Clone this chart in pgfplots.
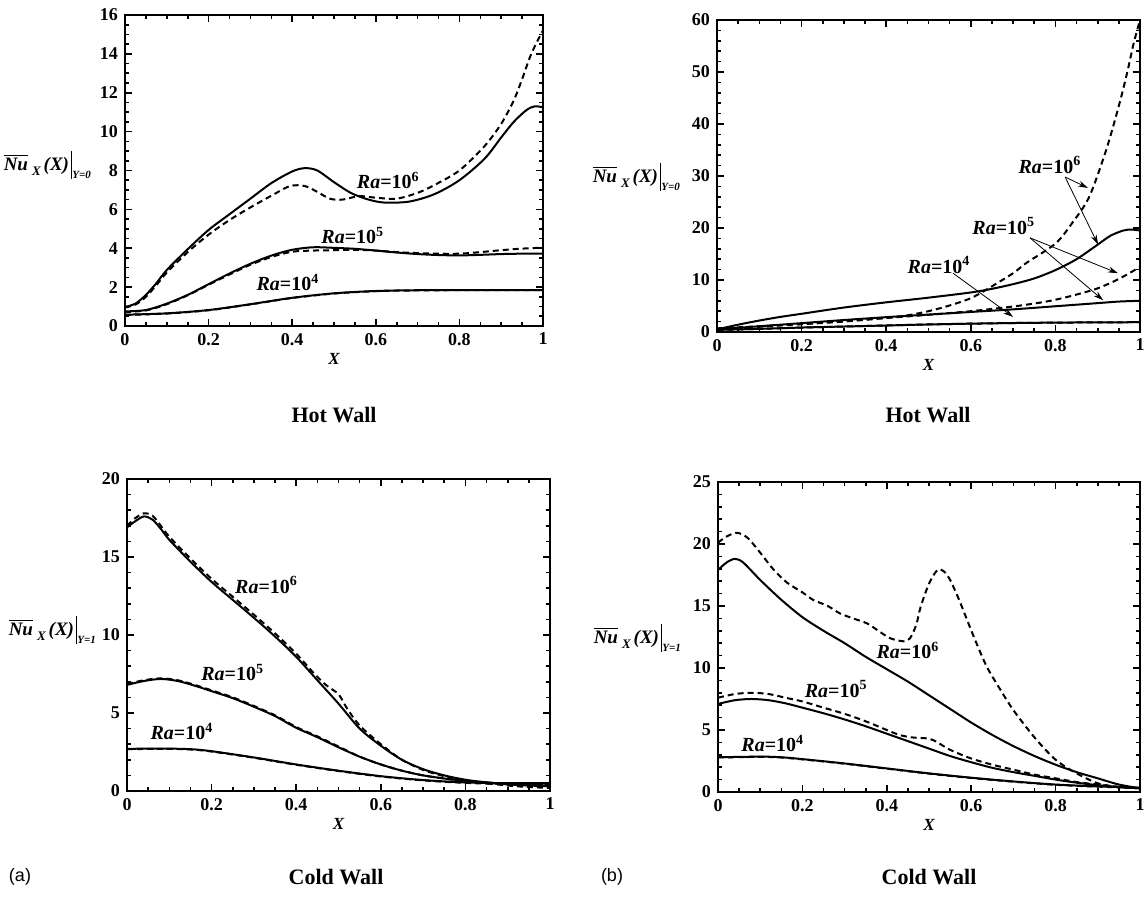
\documentclass[border=0pt]{standalone}
\usepackage{fontspec}
\setmainfont{Liberation Serif}
\newfontfamily\sansf{Liberation Sans}
\usepackage{pgfplots}
\pgfplotsset{compat=1.18}
\usetikzlibrary{arrows.meta}

\newcommand{\ra}[1]{{\fontsize{10}{11}\selectfont\bfseries\itshape Ra\upshape =10\textsuperscript{#1}}}
\newcommand{\nulab}[1]{{\fontsize{9.5}{10}\selectfont\bfseries\itshape
  $\overline{\mbox{\bfseries\itshape Nu}}$\kern2pt\raisebox{-0.6ex}{\fontsize{6.5}{7}\selectfont X}\kern1.5pt(X)\kern1pt\rule[-1ex]{0.7pt}{3.2ex}\raisebox{-1ex}{\fontsize{5.5}{6}\selectfont Y=#1}}}

\pgfplotsset{
  panel/.style={
    scale only axis,
    xmin=0, xmax=1,
    xtick={0,0.2,0.4,0.6,0.8,1},
    minor x tick num=3,
    axis line style={line width=1.1pt},
    every tick/.style={black, line width=0.8pt},
    major tick length=3.5pt,
    minor tick length=1.8pt,
    tick label style={font=\bfseries\fontsize{9}{10}\selectfont},
    /pgf/number format/assume math mode=true,
    xlabel={\bfseries\itshape X},
    xlabel style={font=\fontsize{8.5}{9}\selectfont, yshift=3pt},
  },
  sol/.style={black, line width=1pt, smooth, no markers},
  das/.style={black, line width=1pt, smooth, no markers, dash pattern=on 3pt off 2pt},
}

\begin{document}
\begin{tikzpicture}
\path[use as bounding box] (0,0) rectangle (574pt,448.5pt);

% ---------- top left: hot wall (a)
\begin{axis}[panel, at={(62.5pt,285.5pt)}, anchor=south west,
  width=209pt, height=155.5pt,
  ymin=0, ymax=16, ytick={0,2,...,16}, minor y tick num=3]
\addplot[sol] coordinates {(0,0.98) (0.025,1.15) (0.05,1.6) (0.075,2.2) (0.1,2.88) (0.15,3.95) (0.2,4.94) (0.25,5.75) (0.3,6.55) (0.35,7.35) (0.4,7.95) (0.43,8.12) (0.46,8.0) (0.5,7.4) (0.54,6.85) (0.58,6.52) (0.62,6.35) (0.68,6.4) (0.74,6.78) (0.8,7.5) (0.86,8.6) (0.9,9.7) (0.93,10.5) (0.96,11.1) (0.98,11.3) (1,11.25)};
\addplot[das] coordinates {(0,0.95) (0.025,1.1) (0.05,1.5) (0.075,2.1) (0.1,2.75) (0.15,3.8) (0.2,4.7) (0.25,5.45) (0.3,6.1) (0.35,6.7) (0.395,7.2) (0.43,7.2) (0.46,6.9) (0.49,6.55) (0.52,6.5) (0.56,6.68) (0.6,6.6) (0.65,6.55) (0.7,6.85) (0.74,7.25) (0.8,8.0) (0.86,9.25) (0.9,10.4) (0.93,11.6) (0.95,12.7) (0.97,13.9) (0.99,14.8) (1,15.2)};
\addplot[sol] coordinates {(0,0.75) (0.05,0.82) (0.1,1.15) (0.15,1.6) (0.2,2.15) (0.25,2.7) (0.3,3.2) (0.35,3.62) (0.4,3.92) (0.45,4.05) (0.5,4.02) (0.55,3.97) (0.6,3.88) (0.65,3.78) (0.7,3.7) (0.75,3.65) (0.8,3.63) (0.85,3.66) (0.9,3.7) (0.95,3.72) (1,3.72)};
\addplot[das] coordinates {(0,0.72) (0.05,0.8) (0.1,1.12) (0.15,1.58) (0.2,2.12) (0.25,2.65) (0.3,3.15) (0.35,3.55) (0.4,3.82) (0.45,3.88) (0.5,3.9) (0.55,3.92) (0.6,3.88) (0.65,3.8) (0.7,3.75) (0.75,3.72) (0.8,3.72) (0.85,3.8) (0.9,3.9) (0.95,3.98) (1,4.03)};
\addplot[sol] coordinates {(0,0.58) (0.1,0.65) (0.2,0.82) (0.3,1.12) (0.4,1.45) (0.5,1.68) (0.6,1.8) (0.7,1.84) (0.8,1.85) (0.9,1.85) (1,1.85)};
\addplot[das] coordinates {(0,0.57) (0.1,0.64) (0.2,0.81) (0.3,1.11) (0.4,1.44) (0.5,1.67) (0.6,1.79) (0.7,1.83) (0.8,1.84) (0.9,1.84) (1,1.84)};
\node at (axis cs:0.63,7.5) {\ra{6}};
\node at (axis cs:0.545,4.65) {\ra{5}};
\node at (axis cs:0.39,2.25) {\ra{4}};
\end{axis}

% ---------- top right: hot wall (b)
\begin{axis}[panel, at={(358.5pt,282.5pt)}, anchor=south west,
  width=211.5pt, height=156pt,
  ymin=0, ymax=60, ytick={0,10,...,60}, minor y tick num=4]
\addplot[sol] coordinates {(0,0.5) (0.05,1.4) (0.1,2.2) (0.15,2.9) (0.2,3.5) (0.3,4.7) (0.4,5.7) (0.5,6.6) (0.6,7.6) (0.65,8.3) (0.7,9.2) (0.75,10.3) (0.8,11.9) (0.85,14.0) (0.9,16.8) (0.93,18.5) (0.96,19.5) (0.98,19.7) (1,19.5)};
\addplot[das] coordinates {(0,0.7) (0.1,1.1) (0.2,1.5) (0.3,2.0) (0.4,2.7) (0.45,3.2) (0.5,4.0) (0.55,5.1) (0.6,6.5) (0.64,8.3) (0.7,11.3) (0.73,13.2) (0.8,17.0) (0.84,21.0) (0.88,26.0) (0.92,35.0) (0.95,43.5) (0.97,50.0) (0.985,55.5) (1,60)};
\addplot[sol] coordinates {(0,0.5) (0.1,1.1) (0.2,1.7) (0.3,2.3) (0.4,2.85) (0.5,3.35) (0.6,3.85) (0.7,4.35) (0.8,4.95) (0.9,5.55) (0.95,5.85) (1,6.0)};
\addplot[das] coordinates {(0,0.5) (0.1,1.0) (0.2,1.55) (0.3,2.1) (0.4,2.7) (0.5,3.3) (0.6,4.0) (0.7,4.9) (0.76,5.6) (0.8,6.2) (0.85,7.2) (0.9,8.4) (0.95,10.2) (1,12.5)};
\addplot[sol] coordinates {(0,0.4) (0.1,0.6) (0.2,0.85) (0.3,1.05) (0.4,1.25) (0.5,1.45) (0.6,1.6) (0.7,1.72) (0.8,1.8) (0.9,1.85) (1,1.88)};
\addplot[das] coordinates {(0,0.4) (0.1,0.6) (0.2,0.84) (0.3,1.04) (0.4,1.24) (0.5,1.44) (0.6,1.6) (0.7,1.72) (0.8,1.8) (0.9,1.85) (1,1.88)};
\node at (axis cs:0.787,32.1) {\ra{6}};
\node at (axis cs:0.678,20.4) {\ra{5}};
\node at (axis cs:0.525,12.9) {\ra{4}};
\draw[line width=0.4pt, -{Stealth[length=5pt,width=3pt]}] (axis cs:0.823,29.8) -- (axis cs:0.877,27.7);
\draw[line width=0.4pt, -{Stealth[length=5pt,width=3pt]}] (axis cs:0.823,29.8) -- (axis cs:0.901,16.8);
\draw[line width=0.4pt, -{Stealth[length=5pt,width=3pt]}] (axis cs:0.74,18.1) -- (axis cs:0.948,11.3);
\draw[line width=0.4pt, -{Stealth[length=5pt,width=3pt]}] (axis cs:0.74,18.1) -- (axis cs:0.913,6.1);
\draw[line width=0.4pt, -{Stealth[length=5pt,width=3pt]}] (axis cs:0.558,11.3) -- (axis cs:0.70,2.9);
\end{axis}

% ---------- bottom left: cold wall (a)
\begin{axis}[panel, at={(63.5pt,53pt)}, anchor=south west,
  width=211.5pt, height=156pt,
  ymin=0, ymax=20, ytick={0,5,...,20}, minor y tick num=4]
\addplot[sol] coordinates {(0,16.9) (0.02,17.3) (0.04,17.6) (0.06,17.4) (0.08,16.8) (0.1,16.1) (0.15,14.7) (0.2,13.4) (0.25,12.25) (0.3,11.1) (0.35,9.9) (0.4,8.6) (0.45,7.1) (0.5,5.6) (0.55,4.0) (0.6,2.9) (0.65,2.0) (0.7,1.4) (0.75,1.0) (0.8,0.72) (0.85,0.55) (0.9,0.42) (0.95,0.35) (1,0.3)};
\addplot[das] coordinates {(0,17.0) (0.02,17.5) (0.04,17.8) (0.06,17.65) (0.08,17.0) (0.1,16.3) (0.15,14.9) (0.2,13.6) (0.25,12.45) (0.3,11.3) (0.35,10.1) (0.4,8.8) (0.44,7.6) (0.47,6.8) (0.5,6.2) (0.52,5.3) (0.55,4.2) (0.6,3.0) (0.65,2.0) (0.7,1.35) (0.75,0.95) (0.8,0.68) (0.85,0.5) (0.9,0.35) (0.95,0.25) (1,0.2)};
\addplot[sol] coordinates {(0,6.8) (0.04,7.05) (0.08,7.18) (0.12,7.05) (0.16,6.75) (0.2,6.4) (0.25,5.95) (0.3,5.4) (0.35,4.8) (0.4,4.05) (0.45,3.45) (0.5,2.8) (0.55,2.2) (0.6,1.7) (0.65,1.3) (0.7,1.0) (0.75,0.8) (0.8,0.65) (0.85,0.55) (0.9,0.45) (0.95,0.4) (1,0.35)};
\addplot[das] coordinates {(0,6.85) (0.04,7.1) (0.08,7.22) (0.12,7.1) (0.16,6.8) (0.2,6.45) (0.25,6.0) (0.3,5.45) (0.35,4.85) (0.4,4.1) (0.45,3.5) (0.5,2.85) (0.55,2.2) (0.6,1.7) (0.65,1.3) (0.7,1.0) (0.75,0.8) (0.8,0.62) (0.85,0.5) (0.9,0.4) (0.95,0.3) (1,0.25)};
\addplot[sol] coordinates {(0,2.7) (0.08,2.72) (0.15,2.68) (0.2,2.55) (0.3,2.15) (0.4,1.7) (0.5,1.3) (0.6,0.95) (0.7,0.7) (0.8,0.55) (0.9,0.5) (1,0.5)};
\addplot[das] coordinates {(0,2.68) (0.08,2.7) (0.15,2.66) (0.2,2.53) (0.3,2.13) (0.4,1.68) (0.5,1.28) (0.6,0.93) (0.7,0.68) (0.8,0.52) (0.9,0.45) (1,0.42)};
\node at (axis cs:0.33,13.2) {\ra{6}};
\node at (axis cs:0.25,7.6) {\ra{5}};
\node at (axis cs:0.13,3.8) {\ra{4}};
\end{axis}

% ---------- bottom right: cold wall (b)
\begin{axis}[panel, at={(359pt,52.5pt)}, anchor=south west,
  width=211pt, height=155pt,
  ymin=0, ymax=25, ytick={0,5,...,25}, minor y tick num=4]
\addplot[sol] coordinates {(0,17.9) (0.02,18.5) (0.04,18.8) (0.06,18.5) (0.1,17.1) (0.15,15.5) (0.2,14.1) (0.25,13.0) (0.3,12.0) (0.35,10.9) (0.4,9.9) (0.45,8.9) (0.5,7.8) (0.55,6.7) (0.6,5.6) (0.65,4.6) (0.7,3.7) (0.75,2.9) (0.8,2.2) (0.85,1.6) (0.9,1.1) (0.95,0.6) (1,0.3)};
\addplot[das] coordinates {(0,20.1) (0.02,20.6) (0.045,20.9) (0.07,20.5) (0.1,19.3) (0.13,18.0) (0.163,16.9) (0.2,16.1) (0.225,15.5) (0.26,15.0) (0.289,14.4) (0.32,14.0) (0.353,13.6) (0.38,13.0) (0.408,12.4) (0.44,12.15) (0.455,12.4) (0.47,13.5) (0.48,14.9) (0.5,16.8) (0.52,17.9) (0.535,17.8) (0.55,17.1) (0.57,15.6) (0.59,13.9) (0.61,12.2) (0.637,10.1) (0.67,8.2) (0.7,6.6) (0.75,4.4) (0.8,2.6) (0.85,1.5) (0.9,0.7) (0.95,0.4) (1,0.3)};
\addplot[sol] coordinates {(0,7.1) (0.04,7.4) (0.08,7.5) (0.12,7.4) (0.16,7.15) (0.2,6.8) (0.25,6.35) (0.3,5.85) (0.35,5.3) (0.4,4.7) (0.45,4.1) (0.5,3.5) (0.55,2.9) (0.6,2.4) (0.65,1.95) (0.7,1.6) (0.75,1.3) (0.8,1.0) (0.85,0.75) (0.9,0.55) (0.95,0.4) (1,0.3)};
\addplot[das] coordinates {(0,7.6) (0.04,7.9) (0.08,8.0) (0.12,7.9) (0.16,7.6) (0.2,7.3) (0.25,6.8) (0.3,6.3) (0.35,5.7) (0.4,5.0) (0.43,4.6) (0.46,4.4) (0.5,4.3) (0.52,4.0) (0.55,3.4) (0.6,2.7) (0.65,2.2) (0.7,1.8) (0.75,1.4) (0.8,1.1) (0.85,0.8) (0.9,0.6) (0.95,0.4) (1,0.3)};
\addplot[sol] coordinates {(0,2.8) (0.1,2.85) (0.15,2.8) (0.2,2.65) (0.3,2.3) (0.4,1.9) (0.5,1.5) (0.6,1.15) (0.7,0.85) (0.8,0.6) (0.9,0.45) (1,0.35)};
\addplot[das] coordinates {(0,2.78) (0.1,2.83) (0.15,2.78) (0.2,2.63) (0.3,2.28) (0.4,1.88) (0.5,1.48) (0.6,1.13) (0.7,0.83) (0.8,0.58) (0.9,0.43) (1,0.33)};
\node at (axis cs:0.45,11.4) {\ra{6}};
\node at (axis cs:0.28,8.3) {\ra{5}};
\node at (axis cs:0.13,3.9) {\ra{4}};
\end{axis}

% ---------- y-axis labels
\node[anchor=east] at (49pt,366pt) {\nulab{0}};
\node[anchor=east] at (343.5pt,360pt) {\nulab{0}};
\node[anchor=east] at (51.5pt,133.5pt) {\nulab{1}};
\node[anchor=east] at (344pt,129.5pt) {\nulab{1}};

% ---------- captions
\node[font=\bfseries\fontsize{11}{12}\selectfont] at (167pt,241pt) {Hot Wall};
\node[font=\bfseries\fontsize{11}{12}\selectfont] at (464pt,241pt) {Hot Wall};
\node[font=\bfseries\fontsize{11}{12}\selectfont] at (168pt,10pt) {Cold Wall};
\node[font=\bfseries\fontsize{11}{12}\selectfont] at (464.5pt,10pt) {Cold Wall};
\node[font=\sansf\fontsize{9}{10}\selectfont] at (10pt,10pt) {(a)};
\node[font=\sansf\fontsize{9}{10}\selectfont] at (306pt,10pt) {(b)};
\end{tikzpicture}
\end{document}
